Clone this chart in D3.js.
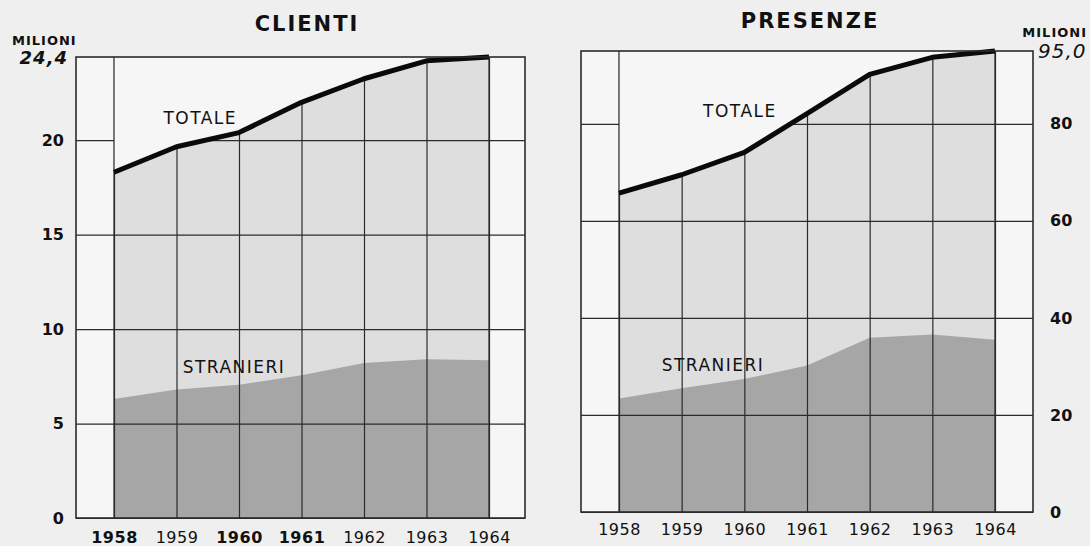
<!DOCTYPE html>
<html>
<head>
<meta charset="utf-8">
<script src="https://cdn.jsdelivr.net/npm/d3@7"></script>
<style>
    body { margin: 0; background: #efefef; }
    text { font-family: "DejaVu Sans", sans-serif; fill: #111; }
</style>
</head>
<body>
<div id="chart"></div>
<script>
// anni
const years = [1958, 1959, 1960, 1961, 1962, 1963, 1964];

// clienti, milioni
const clientiTotale = [18.3, 19.65, 20.4, 22.0, 23.25, 24.2, 24.4];
const clientiStranieri = [6.3, 6.8, 7.05, 7.55, 8.2, 8.4, 8.35];
const clientiTicks = [0, 5, 10, 15, 20];
const clientiMax = 24.4;

// presenze, milioni
const presenzeTotale = [65.7, 69.5, 74.1, 82.1, 90.2, 93.7, 95.0];
const presenzeStranieri = [23.4, 25.5, 27.4, 30.2, 35.9, 36.6, 35.5];
const presenzeTicks = [0, 20, 40, 60, 80];
const presenzeMax = 95.0;

const svg = d3.select("#chart")
    .append("svg")
    .attr("width", 1090)
    .attr("height", 546);

function panel(p) {
    const g = svg.append("g");
    const w = p.right - p.left;

    const x = d3.scaleLinear()
        .domain([years[0], years[years.length - 1]])
        .range([p.x0, p.x1]);
    const y = d3.scaleLinear()
        .domain([0, p.max])
        .range([p.bottom, p.top]);

    const rows = years.map((d, i) => ({year: d, tot: p.totale[i], str: p.stranieri[i]}));

    g.append("rect")
        .attr("x", p.left).attr("y", p.top)
        .attr("width", w).attr("height", p.bottom - p.top)
        .attr("fill", "#f6f6f6");

    g.append("path")
        .datum(rows)
        .attr("fill", "#dedede")
        .attr("d", d3.area()
            .x(d => x(d.year))
            .y0(y(0))
            .y1(d => y(d.tot)));

    g.append("path")
        .datum(rows)
        .attr("fill", "#a6a6a6")
        .attr("d", d3.area()
            .x(d => x(d.year))
            .y0(y(0))
            .y1(d => y(d.str)));

    // griglia orizzontale
    g.append("g")
        .attr("transform", `translate(${p.left},0)`)
        .call(d3.axisLeft(y).tickValues(p.ticks).tickSize(-w).tickFormat(""))
        .call(s => s.select(".domain").remove())
        .selectAll("line")
        .attr("stroke", "#2b2b2b")
        .attr("stroke-width", 1.2);

    // griglia verticale
    g.append("g")
        .attr("transform", `translate(0,${p.bottom})`)
        .call(d3.axisBottom(x).tickValues(years).tickSize(-(p.bottom - p.top)).tickFormat(""))
        .call(s => s.select(".domain").remove())
        .selectAll("line")
        .attr("stroke", "#2b2b2b")
        .attr("stroke-width", 1.2);

    // sopra il totale la carta resta bianca
    g.append("path")
        .datum(rows)
        .attr("fill", "#f6f6f6")
        .attr("d", d3.area()
            .x(d => x(d.year))
            .y0(p.top)
            .y1(d => y(d.tot) - 1));

    [years[0], years[years.length - 1]].forEach(yr => {
        g.append("line")
            .attr("x1", x(yr)).attr("x2", x(yr))
            .attr("y1", p.top).attr("y2", p.bottom)
            .attr("stroke", "#2b2b2b")
            .attr("stroke-width", 1.2);
    });

    g.append("path")
        .datum(rows)
        .attr("fill", "none")
        .attr("stroke", "#0a0a0a")
        .attr("stroke-width", 5)
        .attr("stroke-linejoin", "round")
        .attr("d", d3.line()
            .x(d => x(d.year))
            .y(d => y(d.tot)));

    g.append("rect")
        .attr("x", p.left).attr("y", p.top)
        .attr("width", w).attr("height", p.bottom - p.top)
        .attr("fill", "none")
        .attr("stroke", "#2b2b2b")
        .attr("stroke-width", 1.6);

    // etichette asse y
    const yAxis = p.side === "left" ? d3.axisLeft(y) : d3.axisRight(y);
    g.append("g")
        .attr("transform", `translate(${p.side === "left" ? p.left : p.right},0)`)
        .call(yAxis.tickValues(p.ticks).tickSize(0).tickPadding(p.pad))
        .call(s => s.select(".domain").remove())
        .selectAll("text")
        .style("font-family", "'DejaVu Sans', sans-serif")
        .style("font-size", "16px")
        .style("font-weight", "bold")
        .attr("fill", "#111");

    // anni
    g.append("g")
        .attr("transform", `translate(0,${p.bottom})`)
        .call(d3.axisBottom(x).tickValues(years).tickFormat(d3.format("d")).tickSize(0).tickPadding(p.yearPad))
        .call(s => s.select(".domain").remove())
        .selectAll("text")
        .style("font-family", "'DejaVu Sans', sans-serif")
        .style("font-size", "16px")
        .style("font-weight", d => p.boldYears.includes(d) ? "bold" : "normal")
        .style("letter-spacing", "0.5px")
        .attr("fill", "#111");

    g.append("text")
        .attr("x", p.titleX).attr("y", p.titleY)
        .attr("text-anchor", "middle")
        .style("font-size", "21px")
        .style("font-weight", "bold")
        .style("letter-spacing", "2px")
        .text(p.title);

    g.append("text")
        .attr("x", p.milX).attr("y", p.milY)
        .attr("text-anchor", p.side === "left" ? "start" : "end")
        .style("font-size", "13px")
        .style("font-weight", "bold")
        .style("letter-spacing", "1px")
        .text("MILIONI");

    g.append("text")
        .attr("x", p.maxX).attr("y", y(p.max) + 7)
        .attr("text-anchor", p.side === "left" ? "end" : "start")
        .style("font-size", p.side === "left" ? "18px" : "20px")
        .style("font-weight", p.side === "left" ? "bold" : "normal")
        .style("font-style", "italic")
        .style("letter-spacing", "1px")
        .text(p.maxLabel);

    g.append("text")
        .attr("x", x(p.totX)).attr("y", y(p.totY))
        .attr("text-anchor", "middle")
        .style("font-size", "17px")
        .style("letter-spacing", "1.5px")
        .text("TOTALE");

    g.append("text")
        .attr("x", x(p.strX)).attr("y", y(p.strY))
        .attr("text-anchor", "middle")
        .style("font-size", "17px")
        .style("letter-spacing", "1.5px")
        .text("STRANIERI");
}

panel({
    left: 76, right: 525, top: 57, bottom: 518,
    x0: 114, x1: 489,
    max: clientiMax, ticks: clientiTicks,
    totale: clientiTotale, stranieri: clientiStranieri,
    side: "left", pad: 12, yearPad: 14, boldYears: [1958, 1960, 1961],
    title: "CLIENTI", titleX: 307, titleY: 31,
    milX: 12, milY: 45, maxX: 68, maxLabel: "24,4",
    totX: 1959.38, totY: 20.85, strX: 1959.92, strY: 7.65
});

panel({
    left: 581, right: 1033, top: 51, bottom: 512,
    x0: 619, x1: 995,
    max: presenzeMax, ticks: presenzeTicks,
    totale: presenzeTotale, stranieri: presenzeStranieri,
    side: "right", pad: 17, yearPad: 12, boldYears: [],
    title: "PRESENZE", titleX: 810, titleY: 28,
    milX: 1087, milY: 37, maxX: 1038, maxLabel: "95,0",
    totX: 1959.93, totY: 81.3, strX: 1959.5, strY: 29.0
});
</script>
</body>
</html>
